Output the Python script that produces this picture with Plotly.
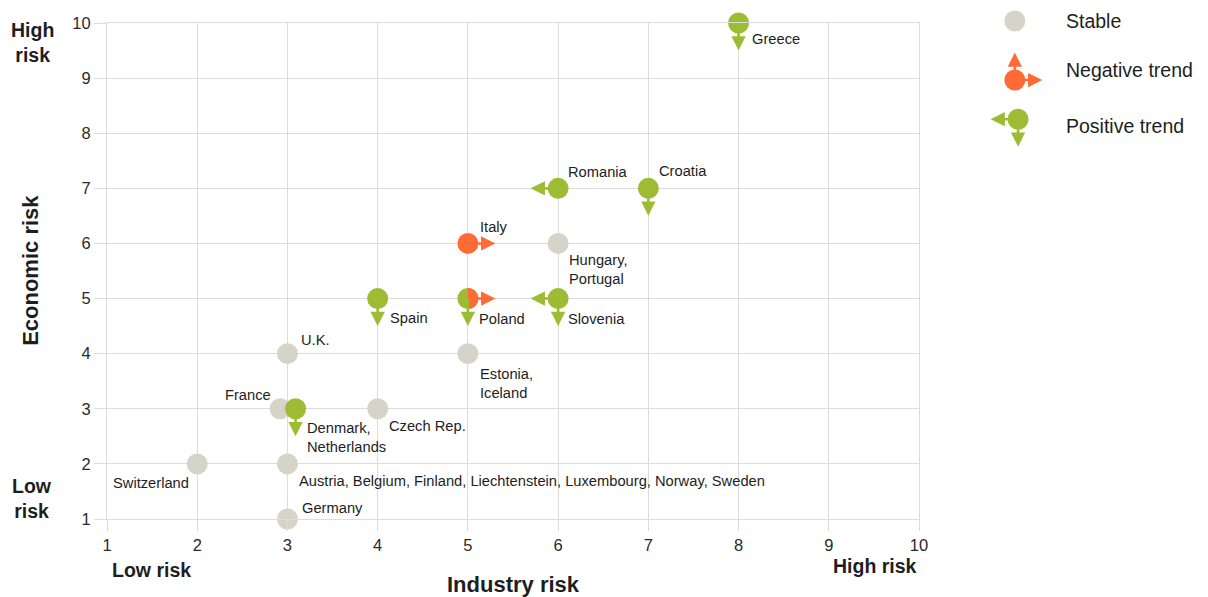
import math
import plotly.graph_objects as go

# ---------------- data ----------------
countries = ["Greece", "Romania", "Croatia", "Italy", "Hungary,<br>Portugal", "Spain", "Poland",
             "Slovenia", "U.K.", "Estonia,<br>Iceland", "France", "Denmark,<br>Netherlands",
             "Czech Rep.", "Switzerland",
             "Austria, Belgium, Finland, Liechtenstein, Luxembourg, Norway, Sweden", "Germany"]
industry_risk = [8, 6, 7, 5, 6, 4, 5, 6, 3, 5, 2.92, 3.09, 4, 2, 3, 3]
economic_risk = [10, 7, 7, 6, 6, 5, 5, 5, 4, 4, 3, 3, 3, 2, 2, 1]
status = ["positive", "positive", "positive", "negative", "stable", "positive", "mixed",
          "positive", "stable", "stable", "stable", "positive", "stable", "stable", "stable", "stable"]
industry_trend = ["", "left", "", "right", "", "", "right", "left", "", "", "", "", "", "", "", ""]
economic_trend = ["down", "", "down", "", "", "down", "down", "down", "", "", "", "down", "", "", "", ""]
x_ticks = [1, 2, 3, 4, 5, 6, 7, 8, 9, 10]
y_ticks = [1, 2, 3, 4, 5, 6, 7, 8, 9, 10]
legend_items = ["Stable", "Negative trend", "Positive trend"]

# ---------------- style ----------------
GREEN = "#9DBB33"
ORANGE = "#FF6B35"
STABLE = "#D6D4C8"
GRID = "#DCDCDC"
TXT = "#1E1E1E"
FONT = "Liberation Sans, Arial, sans-serif"
colors = {"positive": GREEN, "negative": ORANGE, "stable": STABLE, "mixed": GREEN}
ARROW_LEN = 29
R = 10.5
LBL = 14.7

# label placement: (xanchor, yanchor, xshift, yshift)
label_pos = [
    ("left", "middle", 11, -16),   # Greece
    ("left", "middle", 8, 16),     # Romania
    ("left", "middle", 9, 17),     # Croatia
    ("left", "middle", 10, 16),    # Italy
    ("left", "top", 9, -7),        # Hungary
    ("left", "middle", 10, -19),   # Spain
    ("left", "middle", 9, -20),    # Poland
    ("left", "middle", 8, -20),    # Slovenia
    ("left", "middle", 12, 14),    # UK
    ("left", "top", 10, -10),      # Estonia
    ("right", "middle", -7, 14),   # France
    ("left", "top", 9, -9),        # Denmark
    ("left", "middle", 9, -17),    # Czech
    ("right", "middle", -6, -19),  # Switzerland
    ("left", "middle", 10, -17),   # Austria...
    ("left", "middle", 13, 11),    # Germany
]

fig = go.Figure()
fig.add_trace(go.Scatter(
    x=industry_risk, y=economic_risk, mode="markers",
    marker=dict(size=2 * R, color=[colors[s] for s in status], line=dict(width=0)),
    cliponaxis=False, hoverinfo="skip", showlegend=False))

annotations = []
shapes = []

# right half-disc path (pixel units relative to anchor)
half_pts = [(R * math.cos(math.radians(a)), R * math.sin(math.radians(a))) for a in range(-90, 91, 6)]
half_path = "M0,0 " + " ".join("L%.2f,%.2f" % p for p in half_pts) + " Z"


def arrow(x, y, dx, dy, color, xref="x", yref="y"):
    return dict(x=x, y=y, xref=xref, yref=yref, ax=dx, ay=dy, text="", showarrow=True,
                arrowside="start", startarrowhead=2, startarrowsize=1.1, arrowwidth=2.6,
                arrowcolor=color, standoff=0, startstandoff=0)


for i, name in enumerate(countries):
    x, y = industry_risk[i], economic_risk[i]
    xa, ya, xs, ys = label_pos[i]
    annotations.append(dict(x=x, y=y, xref="x", yref="y", text=name, showarrow=False,
                            xanchor=xa, yanchor=ya, xshift=xs, yshift=ys, align="left",
                            font=dict(family=FONT, size=LBL, color=TXT)))
    ind_color = ORANGE if status[i] in ("negative", "mixed") else GREEN
    if status[i] == "mixed":
        shapes.append(dict(type="path", xref="x", yref="y", xsizemode="pixel", ysizemode="pixel",
                           xanchor=x, yanchor=y, path=half_path,
                           fillcolor=ORANGE, line=dict(width=0), layer="above"))
    if industry_trend[i] == "left":
        annotations.append(arrow(x, y, -ARROW_LEN, 0, ind_color))
    elif industry_trend[i] == "right":
        annotations.append(arrow(x, y, ARROW_LEN, 0, ind_color))
    if economic_trend[i] == "down":
        annotations.append(arrow(x, y, 0, ARROW_LEN, GREEN))

# ---------------- custom legend ----------------
leg_x = [1.118, 1.118, 1.122]
leg_y = [1.004, 0.885, 0.806]
leg_txt_y = [1.004, 0.905, 0.792]
leg_colors = [STABLE, ORANGE, GREEN]
for i, item in enumerate(legend_items):
    if i == 1:
        annotations.append(arrow(leg_x[i], leg_y[i], 0, -ARROW_LEN, ORANGE, "paper", "paper"))
        annotations.append(arrow(leg_x[i], leg_y[i], ARROW_LEN, 0, ORANGE, "paper", "paper"))
    if i == 2:
        annotations.append(arrow(leg_x[i], leg_y[i], -ARROW_LEN, 0, GREEN, "paper", "paper"))
        annotations.append(arrow(leg_x[i], leg_y[i], 0, ARROW_LEN, GREEN, "paper", "paper"))
    shapes.append(dict(type="circle", xref="paper", yref="paper", xsizemode="pixel",
                       ysizemode="pixel", xanchor=leg_x[i], yanchor=leg_y[i],
                       x0=-R, x1=R, y0=-R, y1=R, fillcolor=leg_colors[i],
                       line=dict(width=0), layer="above"))
    annotations.append(dict(x=1.179, y=leg_txt_y[i], xref="paper", yref="paper", text=item,
                            showarrow=False, xanchor="left", yanchor="middle",
                            font=dict(family=FONT, size=19.5, color=TXT)))


# ---------------- axis titles ----------------
def title(x, y, text, size, angle=0):
    return dict(x=x, y=y, xref="paper", yref="paper", text=text, showarrow=False,
                xanchor="center", yanchor="middle", textangle=angle,
                font=dict(family=FONT, size=size, color=TXT))


annotations += [
    title(0.500, -0.133, "<b>Industry risk</b>", 22),
    title(-0.095, 0.502, "<b>Economic risk</b>", 22, -90),
    title(-0.092, 0.960, "<b>High<br>risk</b>", 19.5),
    title(-0.092, 0.042, "<b>Low<br>risk</b>", 19.5),
    title(0.055, -0.103, "<b>Low risk</b>", 19.5),
    title(0.946, -0.095, "<b>High risk</b>", 19.5),
]

axis_common = dict(showgrid=True, gridcolor=GRID, gridwidth=1, zeroline=False,
                   showline=True, linecolor=GRID, linewidth=1, mirror=True,
                   ticks="outside", tickcolor=GRID, tickwidth=1,
                   tickfont=dict(family=FONT, size=16.5, color="#2A2A2A"))

fig.update_layout(
    width=1208, height=597,
    margin=dict(l=107, r=289, t=23, b=78),
    paper_bgcolor="white", plot_bgcolor="white",
    xaxis=dict(range=[1, 10], tickvals=x_ticks, ticklen=11, **axis_common),
    yaxis=dict(range=[1, 10], tickvals=y_ticks, ticklen=12, **axis_common),
    annotations=annotations, shapes=shapes, showlegend=False,
)

fig.write_html("out.html")
